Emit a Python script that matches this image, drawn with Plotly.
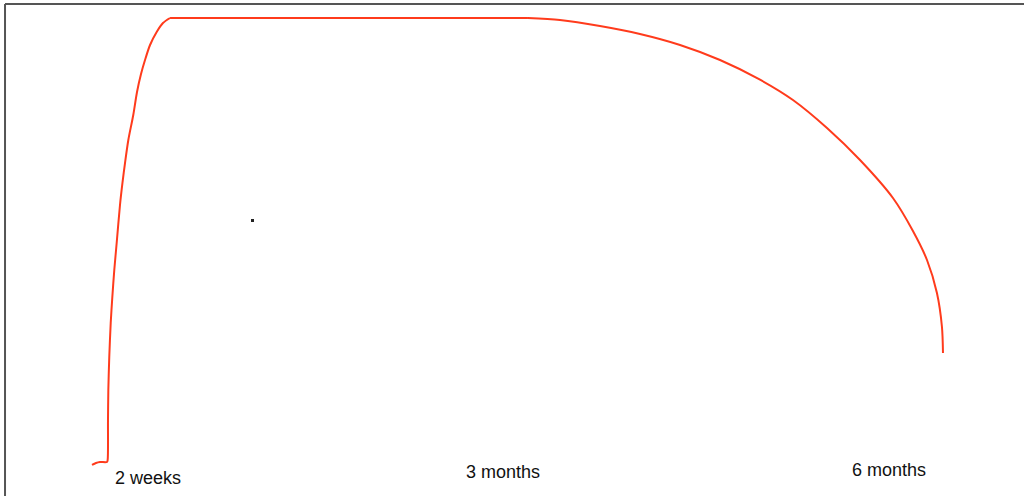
import plotly.graph_objects as go

# Timeline position (% of the span from start to 6 months) and level (% of plateau)
rise_time = [0, 0.47, 0.94, 1.76, 1.84, 1.88, 1.92, 2.03, 2.20, 2.39, 2.62, 2.90, 3.29,
             3.58, 3.88, 4.27, 4.85, 5.29, 5.76, 6.23, 6.82, 7.60, 8.34, 9.17]
rise_level = [0, 0.45, 0.67, 0.67, 1.12, 10.07, 16.78, 24.16, 31.77, 37.58, 43.62, 49.66,
              58.17, 63.09, 67.56, 72.71, 78.30, 83.45, 87.47, 90.60, 93.96, 96.87, 98.88, 100]
plateau_time = [9.17, 51.23]
plateau_level = [100, 100]
decline_time = [51.23, 54.99, 59.69, 64.39, 69.10, 73.80, 78.50, 82.37, 86.37, 90.25,
                94.12, 96.47, 98.12, 99.29, 99.88, 100]
decline_level = [100, 99.55, 98.21, 96.42, 93.96, 90.60, 86.20, 81.66, 75.39, 68.23,
                 59.73, 52.35, 45.86, 38.48, 30.87, 25.06]

label_text = ["2 weeks", "3 months", "6 months"]
label_x = [6.58, 48.30, 93.65]
label_y = [-2.91, -1.57, -1.12]

line_color = "#ff3b1c"
fig = go.Figure()
for xs, ys, shp in [(rise_time, rise_level, "spline"),
                    (plateau_time, plateau_level, "linear"),
                    (decline_time, decline_level, "spline")]:
    fig.add_trace(go.Scatter(x=xs, y=ys, mode="lines",
                             line=dict(color=line_color, width=2, shape=shp, smoothing=0.8),
                             hoverinfo="skip", showlegend=False))

for t, x, y in zip(label_text, label_x, label_y):
    fig.add_annotation(x=x, y=y, text=t, showarrow=False, xanchor="center", yanchor="middle",
                       font=dict(family="Liberation Sans, Arial, sans-serif", size=18, color="#111"))

# frame lines (left and top) and the stray dot
fig.add_shape(type="line", xref="paper", yref="paper", x0=0.0049, x1=0.0049, y0=0, y1=0.992,
              line=dict(color="#555", width=2))
fig.add_shape(type="line", xref="paper", yref="paper", x0=0.0049, x1=1, y0=0.992, y1=0.992,
              line=dict(color="#555", width=2))
fig.add_shape(type="rect", xref="paper", yref="paper", x0=251/1024, x1=254/1024,
              y0=1-222/496, y1=1-219/496, line=dict(width=0), fillcolor="#222")

fig.update_layout(
    width=1024, height=496,
    margin=dict(l=0, r=0, t=0, b=0),
    paper_bgcolor="white", plot_bgcolor="white",
    xaxis=dict(range=[-10.81, 109.52], visible=False, fixedrange=True),
    yaxis=dict(range=[-6.94, 104.03], visible=False, fixedrange=True),
)

fig.write_html("out.html", config={"displayModeBar": False},
               post_script="document.body.style.margin='0';document.body.style.overflow='hidden';")
